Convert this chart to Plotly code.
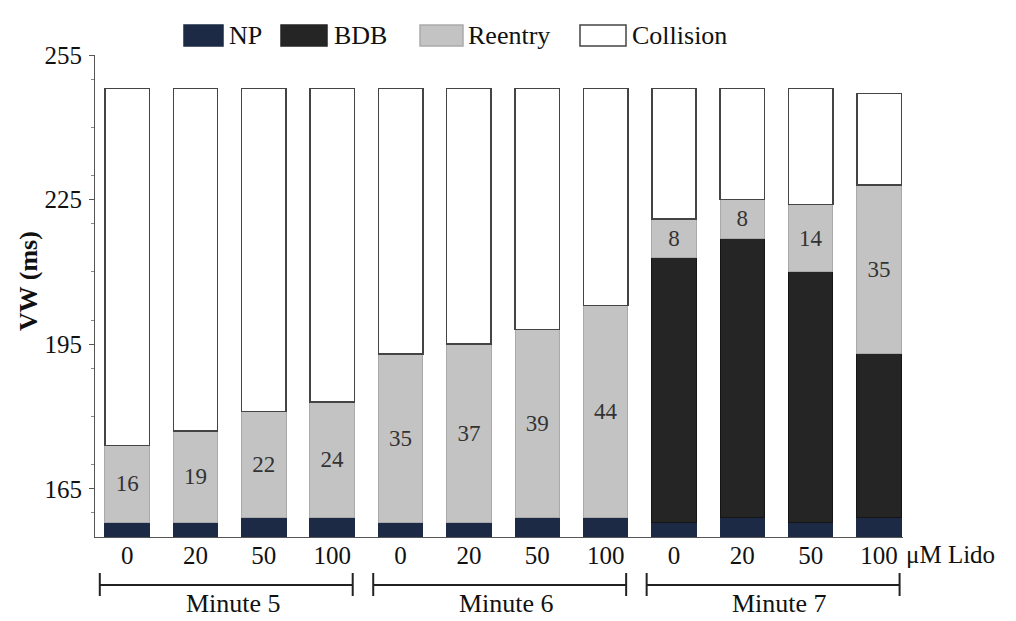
import plotly.graph_objects as go

# lidocaine dose per bar and grouping by minute
doses = ["0", "20", "50", "100", "0", "20", "50", "100", "0", "20", "50", "100"]
groups = ["Minute 5", "Minute 6", "Minute 7"]
group_bars = [(0, 3), (4, 7), (8, 11)]

# window boundaries / widths (ms)
np_top = [158, 158, 159, 159, 158, 158, 159, 159, 158, 159, 158, 159]
bdb = [0, 0, 0, 0, 0, 0, 0, 0, 55, 58, 52, 34]
reentry = [16, 19, 22, 24, 35, 37, 39, 44, 8, 8, 14, 35]
collision = [74, 71, 67, 65, 55, 53, 50, 45, 27, 23, 24, 19]

FONT = "Liberation Serif"
W, H = 1008, 613
L, T, R, B = 87, 47, 113, 84
PW, PH = W - L - R, H - T - B


def px(sx):
    # screen x -> paper x (page has an 8px body margin)
    return (sx - 8 - L) / PW


def py(sy):
    return 1 - (sy - 8 - T) / PH


x = list(range(len(doses)))
series = [
    ("NP", np_top, "#1c2a46", "#1c2a46"),
    ("BDB", bdb, "#252525", "#151515"),
    ("Reentry", reentry, "#c3c3c3", "#aaaaaa"),
    ("Collision", collision, "#ffffff", "#444444"),
]

fig = go.Figure()
for name, vals, col, edge in series:
    kw = {}
    if name == "Reentry":
        kw = dict(text=[str(v) for v in vals], textposition="inside", insidetextanchor="middle",
                  textfont=dict(family=FONT, size=23, color="#333333"), textangle=0)
    fig.add_trace(go.Bar(x=x, y=vals, name=name, showlegend=False,
                         marker=dict(color=col, line=dict(color=edge, width=1.5 if name == "Collision" else 1)),
                         **kw))

# legend drawn by hand to get the wide swatches
legend_pos = [(184, 223, 227), (281, 327, 332), (420, 463, 466), (580, 626, 630)]
for (name, _, col, edge), (s0, s1, tx) in zip(series, legend_pos):
    fig.add_shape(type="rect", xref="paper", yref="paper", x0=px(s0), x1=px(s1), y0=py(46), y1=py(25),
                  fillcolor=col, line=dict(color=edge if name in ("Collision", "Reentry") else col, width=1.5))
    fig.add_annotation(x=px(tx), y=py(36), xref="paper", yref="paper", text=name, showarrow=False,
                       xanchor="left", yanchor="middle", font=dict(family=FONT, size=26, color="#111111"))

# group brackets below the axis
for name, (a, b) in zip(groups, group_bars):
    x0, x1 = a - 0.4, b + 0.3
    fig.add_shape(type="line", xref="x", yref="paper", x0=x0, x1=x1, y0=py(585), y1=py(585),
                  line=dict(color="#222222", width=2))
    for xe in (x0, x1):
        fig.add_shape(type="line", xref="x", yref="paper", x0=xe, x1=xe, y0=py(573), y1=py(596),
                      line=dict(color="#222222", width=2))
    fig.add_annotation(x=(x0 + x1) / 2 + 0.1, y=py(603), xref="x", yref="paper", text=name, showarrow=False,
                       yanchor="middle", font=dict(family=FONT, size=26, color="#111111"))

fig.add_annotation(x=px(904), y=py(554), xref="paper", yref="paper", text="\u03bcM Lido", showarrow=False,
                   xanchor="left", yanchor="middle", font=dict(family=FONT, size=25, color="#111111"))

fig.add_annotation(x=px(28), y=py(281), xref="paper", yref="paper", text="<b>VW (ms)</b>", showarrow=False,
                   textangle=-90, xanchor="center", yanchor="middle",
                   font=dict(family=FONT, size=26, color="#111111"))

fig.update_layout(
    width=W, height=H,
    margin=dict(l=L, r=R, t=T, b=B),
    paper_bgcolor="white", plot_bgcolor="white",
    barmode="stack", bargap=0.35,
    font=dict(family=FONT, size=25, color="#111111"),
    showlegend=False,
)
fig.update_xaxes(
    range=[-0.47, 11.35], tickmode="array", tickvals=x, ticktext=doses,
    showline=True, linecolor="#555555", linewidth=1, ticks="", showgrid=False,
    tickfont=dict(family=FONT, size=25), ticklabelstandoff=-4,
)
fig.update_yaxes(
    range=[155, 255], tickvals=[165, 195, 225, 255], showline=True, linecolor="#555555", linewidth=1,
    ticks="outside", ticklen=5, tickcolor="#555555", showgrid=False, zeroline=False,
    minor=dict(dtick=10, ticks="outside", ticklen=3, tickcolor="#888888", showgrid=False),
    tickfont=dict(family=FONT, size=25), ticklabelstandoff=2,
)

fig.write_html("out.html")
